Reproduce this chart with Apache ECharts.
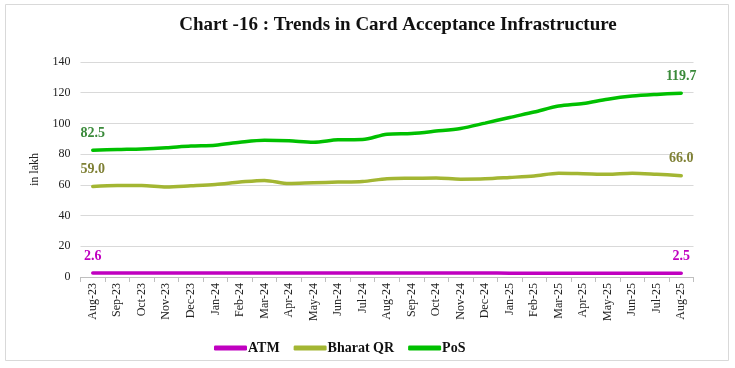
<!DOCTYPE html>
<html><head><meta charset="utf-8">
<script src="https://cdn.jsdelivr.net/npm/echarts@6/dist/echarts.min.js"></script>
<style>html,body{margin:0;padding:0;background:#fff}#c{width:735px;height:368px}</style>
</head><body><div id="c"></div>
<script>
const categories = ['Aug-23','Sep-23','Oct-23','Nov-23','Dec-23','Jan-24','Feb-24','Mar-24','Apr-24','May-24','Jun-24','Jul-24','Aug-24','Sep-24','Oct-24','Nov-24','Dec-24','Jan-25','Feb-25','Mar-25','Apr-25','May-25','Jun-25','Jul-25','Aug-25'];
const atm = [2.6,2.6,2.6,2.6,2.6,2.6,2.6,2.6,2.6,2.6,2.6,2.6,2.6,2.6,2.6,2.6,2.6,2.5,2.5,2.5,2.5,2.5,2.5,2.5,2.5];
const bharatQR = [59.0,59.6,59.6,58.6,59.4,60.3,61.8,62.9,60.9,61.4,61.8,62.2,64.0,64.3,64.5,63.7,63.9,64.8,65.8,67.6,67.3,66.9,67.6,66.9,66.0];
const pos = [82.5,83.0,83.4,84.2,85.3,85.8,87.7,89.0,88.7,87.8,89.3,89.5,93.0,93.5,95.0,96.7,100.2,103.9,107.4,111.3,113.0,115.8,117.8,118.9,119.7];
const yTicks = {min:0, max:140, interval:20};

const serif = 'Liberation Serif';
function endLabels(color){
  return {
    show:true, position:'top', distance:10, color:color, fontFamily:serif, fontWeight:'bold', fontSize:14,
    formatter:function(p){ const n = p.dataIndex; return (n===0 || n===categories.length-1) ? Number(p.value).toFixed(1) : ''; }
  };
}
const chart = echarts.init(document.getElementById('c'));
chart.setOption({
  animation:false,
  backgroundColor:'#fff',
  graphic:[{type:'rect', shape:{x:5.5,y:4.5,width:723,height:356}, style:{fill:'none', stroke:'#d9d9d9', lineWidth:1}, silent:true}],
  title:{text:'Chart -16 : Trends in Card Acceptance Infrastructure', left:393, textAlign:'center', top:11,
    textStyle:{fontFamily:serif, fontWeight:'bold', fontSize:19, color:'#111'}},
  grid:{left:80.5, right:41.5, top:62, bottom:91, containLabel:false},
  legend:{bottom:8, left:209, itemGap:14, itemWidth:33, itemHeight:5, icon:'roundRect',
    textStyle:{fontFamily:serif, fontWeight:'bold', fontSize:14, color:'#111', padding:[0,0,0,-4]},
    data:['ATM','Bharat QR','PoS']},
  xAxis:{type:'category', data:categories, boundaryGap:true,
    axisLine:{lineStyle:{color:'#bfbfbf'}}, axisTick:{show:true, length:5, lineStyle:{color:'#bfbfbf'}},
    axisLabel:{rotate:90, interval:0, fontFamily:serif, fontSize:12, color:'#222', margin:6}},
  yAxis:{type:'value', min:yTicks.min, max:yTicks.max, interval:yTicks.interval,
    name:'in lakh', nameLocation:'middle', nameGap:40, nameRotate:90,
    nameTextStyle:{fontFamily:serif, fontSize:12, color:'#222'},
    axisLine:{show:false}, axisTick:{show:false},
    splitLine:{lineStyle:{color:'#d9d9d9'}},
    axisLabel:{fontFamily:serif, fontSize:12, color:'#222', margin:10}},
  series:[
    {name:'ATM', type:'line', data:atm, symbol:'circle', symbolSize:0.1, showSymbol:true, smooth:0.3, lineStyle:{width:3.5, color:'#C000C0', cap:'round'}, itemStyle:{color:'#C000C0'}, label:endLabels('#C000C0')},
    {name:'Bharat QR', type:'line', data:bharatQR, symbol:'circle', symbolSize:0.1, showSymbol:true, smooth:0.3, lineStyle:{width:3.5, color:'#A3B633', cap:'round'}, itemStyle:{color:'#A3B633'}, label:endLabels('#7F8035')},
    {name:'PoS', type:'line', data:pos, symbol:'circle', symbolSize:0.1, showSymbol:true, smooth:0.3, lineStyle:{width:3.5, color:'#00C000', cap:'round'}, itemStyle:{color:'#00C000'}, label:endLabels('#3A8A3A')}
  ]
});
</script></body></html>
